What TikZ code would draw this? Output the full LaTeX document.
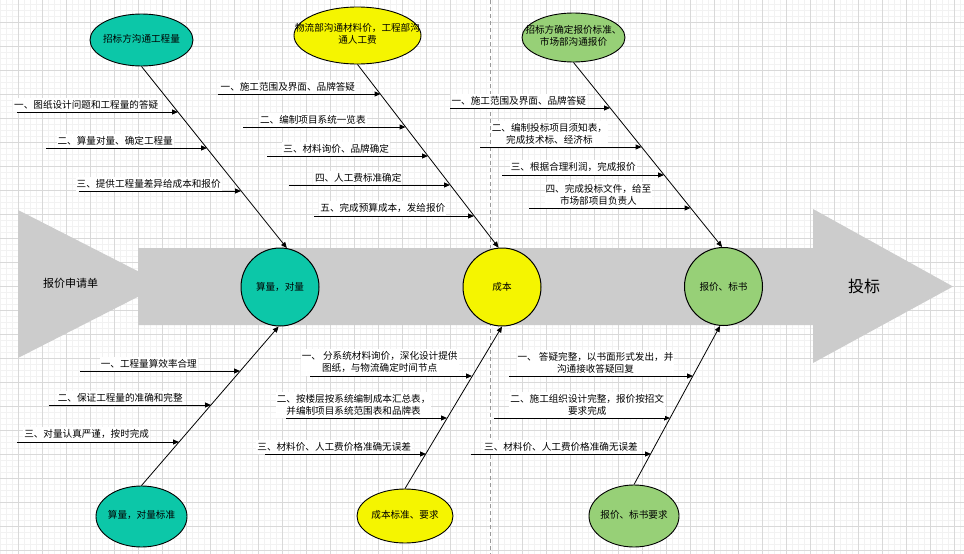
\documentclass[tikz,border=0pt]{standalone}
\usepackage{fontspec}
\setmainfont{Noto Sans CJK SC}
\usetikzlibrary{arrows.meta, shapes.geometric}

\definecolor{fbteal}{HTML}{0CC7A8}
\definecolor{fbyellow}{HTML}{F5F500}
\definecolor{fbgreen}{HTML}{97D077}
\definecolor{fbgray}{HTML}{CCCCCC}

% text of an ellipse may run past its border
\newcommand\elltext[1]{\makebox[0pt]{\begin{tabular}{@{}c@{}}#1\end{tabular}}}

\begin{document}
\begin{tikzpicture}[x=1pt, y=-1pt, >={Triangle[length=6pt, width=5pt]},
  small/.style={font={\fontsize{9.6}{12}\selectfont}},
  ell/.style={ellipse, draw, line width=0.9pt, inner sep=0pt, small},
  hub/.style={circle, draw, line width=1pt, minimum size=78pt, inner sep=0pt, small},
  bone/.style={->, line width=0.8pt},
  rib/.style={->, line width=1pt},
  lbl/.style={small, fill=white, inner xsep=1pt, inner ysep=2.5pt, above, align=center, pos=.43},
  gridminor/.style={draw=black!5, line width=0.5pt},
  gridmajor/.style={draw=black!15, line width=0.6pt},
  guide/.style={draw=black!40, dashed, dash pattern=on 4pt off 3pt, line width=0.6pt}]

\useasboundingbox (0,0) rectangle (964,554);
\fill[white] (0,0) rectangle (964,554);

% --- Grid ---
\begin{scope}[shift={(18,22)}]
  \draw[gridminor, step=6pt] (-18,-22) grid (946,532);
  \draw[gridmajor, step=24pt] (-18,-22) grid (946,532);
\end{scope}

% --- Divider ---
\coordinate (gtop) at (490.5,0);
\coordinate (gbot) at (490.5,554);
\draw[guide] (gtop) -- (gbot);

% --- Tail and spine ---
\fill[fbgray] (18,210) -- (163,284) -- (18,358) -- cycle;
\fill[fbgray] (138,248) -- (813,248) -- (813,209) -- (953,286.5)
  -- (813,363) -- (813,325) -- (138,325) -- cycle;
\node[font={\fontsize{11}{13}\selectfont}] (apply) at (70.5,283) {报价申请单};
\node[font={\fontsize{16}{19}\selectfont}] (bidding) at (864,286) {投标};

% --- Hubs ---
\node[hub, fill=fbteal] (qty) at (280,287) {算量，对量};
\node[hub, fill=fbyellow] (cost) at (502,287) {成本};
\node[hub, fill=fbgreen] (bid) at (723.5,286.5) {报价、标书};

% --- Top causes ---
\node[ell, fill=fbteal, minimum width=103pt, minimum height=52pt] (qtytop) at (141.5,40) {\elltext{招标方沟通工程量}};
\node[ell, fill=fbyellow, minimum width=127pt, minimum height=57pt] (costtop) at (357.5,35.5) {\elltext{物流部沟通材料价，工程部沟\\通人工费}};
\node[ell, fill=fbgreen, minimum width=103pt, minimum height=49pt] (bidtop) at (573.5,37.5) {\elltext{招标方确定报价标准、\\市场部沟通报价}};

% --- Bottom causes ---
\node[ell, fill=fbteal, minimum width=91pt, minimum height=61pt] (qtystd) at (141.5,516.5) {\elltext{算量，对量标准}};
\node[ell, fill=fbyellow, minimum width=96pt, minimum height=54pt] (coststd) at (405,516) {\elltext{成本标准、要求}};
\node[ell, fill=fbgreen, minimum width=90pt, minimum height=62pt] (bidstd) at (634,516) {\elltext{报价、标书要求}};

% --- Bones ---
\draw[bone] (qtytop.south) -- (qty.80);
\draw[bone] (costtop.south) -- (cost.95);
\draw[bone] (bidtop.south) -- (bid.92);
\draw[bone] (qtystd.north) -- (qty.268);
\draw[bone] (coststd.north) -- (cost.south);
\draw[bone] (bidstd.north) -- (bid.265);

% --- Ribs: quantity, top ---
\coordinate (qt1s) at (17,112);  \coordinate (qt1e) at (178,112);
\coordinate (qt2s) at (46,148);  \coordinate (qt2e) at (207,148);
\coordinate (qt3s) at (79,191);  \coordinate (qt3e) at (241,191);
\draw[rib] (qt1s) -- node[lbl] {一、图纸设计问题和工程量的答疑} (qt1e);
\draw[rib] (qt2s) -- node[lbl] {二、算量对量、确定工程量} (qt2e);
\draw[rib] (qt3s) -- node[lbl] {三、提供工程量差异给成本和报价} (qt3e);

% --- Ribs: cost, top ---
\coordinate (ct1s) at (218,94);  \coordinate (ct1e) at (380.5,94);
\coordinate (ct2s) at (243,127); \coordinate (ct2e) at (405.5,127);
\coordinate (ct3s) at (267,156); \coordinate (ct3e) at (428,156);
\coordinate (ct4s) at (289,185); \coordinate (ct4e) at (450,185);
\coordinate (ct5s) at (314,216); \coordinate (ct5e) at (474,216);
\draw[rib] (ct1s) -- node[lbl] {一、施工范围及界面、品牌答疑} (ct1e);
\draw[rib] (ct2s) -- node[lbl] {二、编制项目系统一览表} (ct2e);
\draw[rib] (ct3s) -- node[lbl] {三、材料询价、品牌确定} (ct3e);
\draw[rib] (ct4s) -- node[lbl] {四、人工费标准确定} (ct4e);
\draw[rib] (ct5s) -- node[lbl] {五、完成预算成本，发给报价} (ct5e);

% --- Ribs: bid, top ---
\coordinate (bt1s) at (450,108); \coordinate (bt1e) at (610,108);
\coordinate (bt2s) at (480,147); \coordinate (bt2e) at (641.5,147);
\coordinate (bt3s) at (502,175); \coordinate (bt3e) at (664,175);
\coordinate (bt4s) at (529,208); \coordinate (bt4e) at (690.5,208);
\draw[rib] (bt1s) -- node[lbl] {一、施工范围及界面、品牌答疑} (bt1e);
\draw[rib] (bt2s) -- node[lbl] {二、编制投标项目须知表，\\完成技术标、经济标} (bt2e);
\draw[rib] (bt3s) -- node[lbl, pos=.44] {三、根据合理利润，完成报价} (bt3e);
\draw[rib] (bt4s) -- node[lbl] {四、完成投标文件，给至\\市场部项目负责人} (bt4e);

% --- Ribs: quantity, bottom ---
\coordinate (qb1s) at (80,371);  \coordinate (qb1e) at (240,371);
\coordinate (qb2s) at (49,405);  \coordinate (qb2e) at (211,405);
\coordinate (qb3s) at (17,442);  \coordinate (qb3e) at (179,442);
\draw[rib] (qb1s) -- node[lbl] {一、工程量算效率合理} (qb1e);
\draw[rib] (qb2s) -- node[lbl, pos=.44] {二、保证工程量的准确和完整} (qb2e);
\draw[rib] (qb3s) -- node[lbl] {三、对量认真严谨，按时完成} (qb3e);

% --- Ribs: cost, bottom ---
\coordinate (cb1s) at (310,376); \coordinate (cb1e) at (472,376);
\coordinate (cb2s) at (286,418); \coordinate (cb2e) at (447,418);
\coordinate (cb3s) at (265,454); \coordinate (cb3e) at (426,454);
\draw[rib] (cb1s) -- node[lbl] {一、 分系统材料询价，深化设计提供\\图纸，与物流确定时间节点} (cb1e);
\draw[rib] (cb2s) -- node[lbl, pos=.42] {二、按楼层按系统编制成本汇总表，\\并编制项目系统范围表和品牌表} (cb2e);
\draw[rib] (cb3s) -- node[lbl] {三、材料价、人工费价格准确无误差} (cb3e);

% --- Ribs: bid, bottom ---
\coordinate (bb1s) at (509,376); \coordinate (bb1e) at (693,376);
\coordinate (bb2s) at (494,418); \coordinate (bb2e) at (670,418);
\coordinate (bb3s) at (471,454); \coordinate (bb3e) at (651,454);
\draw[rib] (bb1s) -- node[lbl, pos=.47] {一、 答疑完整，以书面形式发出，并\\沟通接收答疑回复} (bb1e);
\draw[rib] (bb2s) -- node[lbl, pos=.53] {二、施工组织设计完整，报价按招文\\要求完成} (bb2e);
\draw[rib] (bb3s) -- node[lbl, pos=.5] {三、材料价、人工费价格准确无误差} (bb3e);

\end{tikzpicture}
\end{document}
